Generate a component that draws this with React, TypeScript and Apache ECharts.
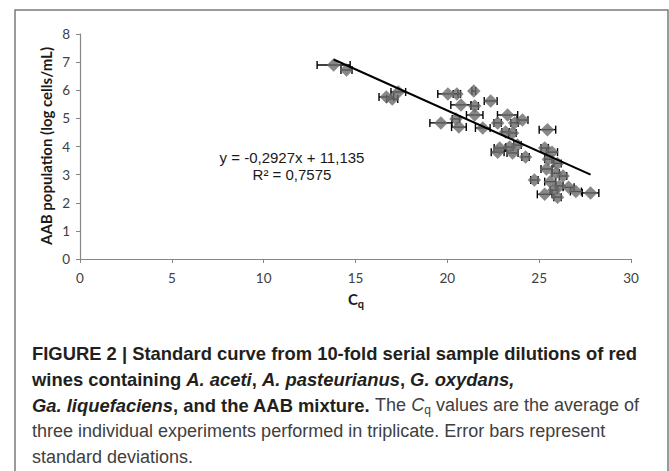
import React, { useEffect, useRef } from "react";
import * as echarts from "echarts";

// ---- data ----
const cqValues = [
  13.81, 14.51, 16.68, 17.0, 17.33,
  20.03, 20.52, 21.44, 20.74, 21.49, 22.36, 21.49, 19.65, 20.47, 20.63, 21.93,
  22.74, 23.28, 23.66, 24.09, 23.17, 23.55, 22.85, 23.39, 23.82, 22.74, 23.55, 24.26, 24.74,
  25.45, 25.3, 25.7, 25.5, 26.0, 25.4, 25.9, 26.3, 25.6, 26.1, 26.6, 25.3, 25.8, 26.0, 27.0, 27.8,
];
const logPopulation = [
  6.9, 6.72, 5.76, 5.69, 5.94,
  5.87, 5.87, 5.97, 5.48, 5.44, 5.62, 5.12, 4.84, 4.98, 4.69, 4.66,
  4.84, 5.12, 4.84, 4.94, 4.52, 4.48, 3.95, 3.98, 4.05, 3.8, 3.77, 3.63, 2.81,
  4.6, 3.95, 3.8, 3.55, 3.4, 3.2, 3.05, 2.95, 2.75, 2.6, 2.55, 2.3, 2.45, 2.2, 2.4, 2.35,
];
const cqSD = [
  0.9, 0.3, 0.4, 0.3, 0.4,
  0.55, 0.2, 0.1, 0.55, 0.2, 0.35, 0.45, 0.6, 0.2, 0.4, 0.4,
  0.2, 0.55, 0.2, 0.3, 0.2, 0.2, 0.3, 0.2, 0.2, 0.35, 0.3, 0.2, 0.2,
  0.45, 0.2, 0.3, 0.2, 0.2, 0.3, 0.2, 0.2, 0.3, 0.2, 0.3, 0.4, 0.2, 0.2, 0.3, 0.45,
];
const slope = -0.2927;
const intercept = 11.135;
const equationLabel = "y = -0,2927x + 11,135";
const r2Label = "R² = 0,7575";
const xTickMin = 0;
const xTickMax = 30;
const xTickStep = 5;
const yTickMin = 0;
const yTickMax = 8;
const yTickStep = 1;
const yAxisTitle = "AAB population (log cells/mL)";
const xAxisTitleMain = "C";
const xAxisTitleSub = "q";
const captionLines: [string, string][][] = [
  [["b", "FIGURE 2 | Standard curve from 10-fold serial sample dilutions of red"]],
  [
    ["b", "wines containing "],
    ["bi", "A. aceti"],
    ["b", ", "],
    ["bi", "A. pasteurianus"],
    ["b", ", "],
    ["bi", "G. oxydans,"],
  ],
  [
    ["bi", "Ga. liquefaciens"],
    ["b", ", and the AAB mixture."],
    ["n", " The "],
    ["i", "C"],
    ["s", "q"],
    ["n", " values are the average of"],
  ],
  [["n", "three individual experiments performed in triplicate. Error bars represent"]],
  [["n", "standard deviations."]],
];

const CAP_FONT = '"Liberation Sans", Arial, Helvetica, sans-serif';
const TICK_FONT = 'Lato, Carlito, Calibri, sans-serif';

export default function App() {
  const ref = useRef<HTMLDivElement>(null);

  useEffect(() => {
    if (!ref.current) return;
    const chart = echarts.init(ref.current, undefined, { renderer: "svg" });

    const points = cqValues.map((c, i) => [c, logPopulation[i], cqSD[i]]);
    const xMin = Math.min(...cqValues);
    const xMax = Math.max(...cqValues);
    const trend = [
      [xMin, slope * xMin + intercept],
      [xMax, slope * xMax + intercept],
    ];

    const boldFs = 18.4;
    const normFs = 18;
    const rich: any = {
      b: { fontFamily: CAP_FONT, fontSize: boldFs, fontWeight: "bold", fontStyle: "normal", fill: "#231f20" },
      bi: { fontFamily: CAP_FONT, fontSize: boldFs, fontWeight: "bold", fontStyle: "italic", fill: "#231f20" },
      n: { fontFamily: CAP_FONT, fontSize: normFs, fontWeight: "normal", fontStyle: "normal", fill: "#404040" },
      i: { fontFamily: CAP_FONT, fontSize: normFs, fontWeight: "normal", fontStyle: "italic", fill: "#404040" },
      s: { fontFamily: CAP_FONT, fontSize: 12, fontWeight: "normal", fontStyle: "normal", fill: "#404040", padding: [9, 0, 0, 0] },
    };
    const captionY = [353, 379, 405, 431, 457];
    const captionGraphics = captionLines.map((parts, li) => ({
      type: "text",
      x: 32,
      y: captionY[li],
      style: {
        text: parts.map(([k, t]) => `{${k}|${t}}`).join(""),
        rich,
        align: "left",
        verticalAlign: "middle",
      },
    }));

    const lineStyle = { stroke: "#000", lineWidth: 1.4 };

    chart.setOption({
      animation: false,
      backgroundColor: "#ffffff",
      grid: { left: 80, right: 38, top: 34, bottom: 212, containLabel: false },
      xAxis: {
        type: "value",
        min: xTickMin,
        max: xTickMax,
        interval: xTickStep,
        splitLine: { show: false },
        axisLine: { show: true, lineStyle: { color: "#868686", width: 1.2 } },
        axisTick: { show: true, length: 4, lineStyle: { color: "#868686" } },
        axisLabel: { margin: 12, fontFamily: TICK_FONT, fontSize: 13.5, color: "#404040" },
      },
      yAxis: {
        type: "value",
        min: yTickMin,
        max: yTickMax,
        interval: yTickStep,
        splitLine: { show: false },
        axisLine: { show: true, lineStyle: { color: "#868686", width: 1.2 } },
        axisTick: { show: true, length: 4, lineStyle: { color: "#868686" } },
        axisLabel: { margin: 10, fontFamily: TICK_FONT, fontSize: 13.5, color: "#404040" },
      },
      series: [
        {
          type: "custom",
          z: 2,
          renderItem: (params: any, api: any) => {
            const x = api.value(0);
            const y = api.value(1);
            const sd = api.value(2);
            const lo = api.coord([x - sd, y]);
            const hi = api.coord([x + sd, y]);
            const cap = 4;
            return {
              type: "group",
              children: [
                { type: "line", shape: { x1: lo[0], y1: lo[1], x2: hi[0], y2: hi[1] }, style: lineStyle },
                { type: "line", shape: { x1: lo[0], y1: lo[1] - cap, x2: lo[0], y2: lo[1] + cap }, style: lineStyle },
                { type: "line", shape: { x1: hi[0], y1: hi[1] - cap, x2: hi[0], y2: hi[1] + cap }, style: lineStyle },
              ],
            };
          },
          encode: { x: 0, y: 1 },
          data: points,
        },
        {
          type: "scatter",
          z: 3,
          symbol: "diamond",
          symbolSize: 13.5,
          itemStyle: { color: "#6a6a6a" },
          data: points.map((p) => [p[0], p[1]]),
        },
        {
          type: "line",
          z: 4,
          symbol: "none",
          lineStyle: { color: "#000", width: 2 },
          data: trend,
        },
      ],
      graphic: [
        {
          type: "rect",
          shape: { x: 15, y: 10, width: 653, height: 480 },
          style: { fill: "none", stroke: "#7a7a7a", lineWidth: 1.5 },
          silent: true,
        },
        {
          type: "text",
          x: 292,
          y: 166,
          style: {
            text: equationLabel + "\n" + r2Label,
            align: "center",
            verticalAlign: "middle",
            lineHeight: 17,
            fontFamily: CAP_FONT,
            fontSize: 15,
            fill: "#1a1a1a",
          },
        },
        {
          type: "text",
          x: 46,
          y: 146,
          rotation: Math.PI / 2,
          style: {
            text: yAxisTitle,
            align: "center",
            verticalAlign: "middle",
            fontFamily: TICK_FONT,
            fontWeight: "bold",
            fontSize: 15,
            fill: "#1a1a1a",
          },
        },
        {
          type: "text",
          x: 356,
          y: 299,
          style: {
            text: `{c|${xAxisTitleMain}}{q|${xAxisTitleSub}}`,
            align: "center",
            verticalAlign: "middle",
            rich: {
              c: { fontFamily: TICK_FONT, fontSize: 15, fontWeight: "bold", fill: "#1a1a1a" },
              q: { fontFamily: TICK_FONT, fontSize: 11, fontWeight: "bold", fill: "#1a1a1a", padding: [8, 0, 0, 0] },
            },
          },
        },
        ...captionGraphics,
      ],
    });

    return () => chart.dispose();
  }, []);

  return (
    <div
      ref={ref}
      style={{ position: "absolute", left: 0, top: 0, width: 669, height: 471, background: "#fff" }}
    />
  );
}
